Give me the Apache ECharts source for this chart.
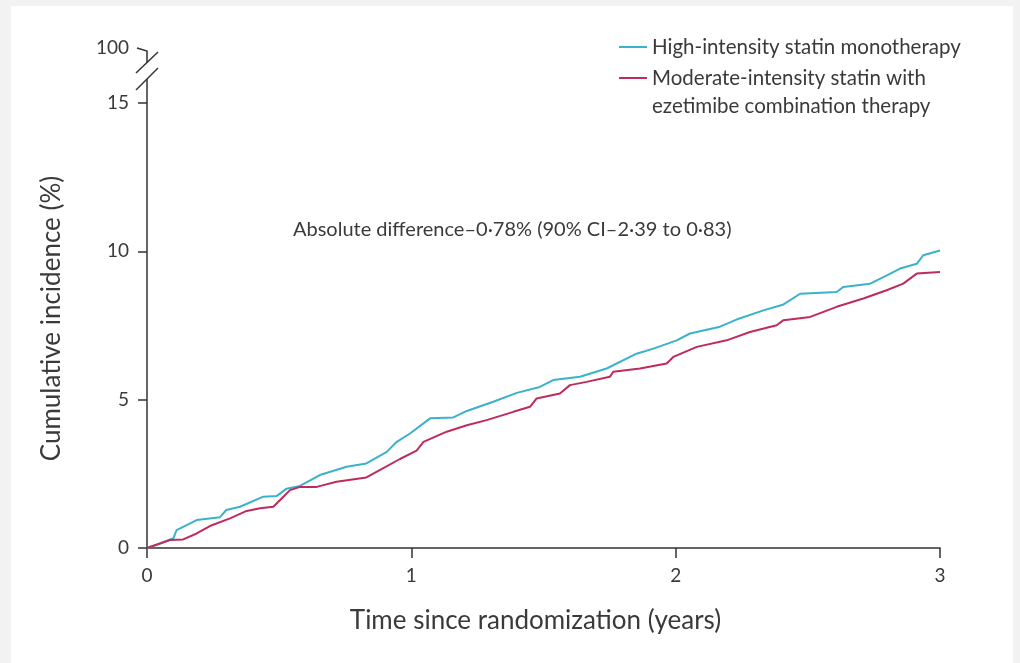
<!DOCTYPE html>
<html>
<head>
<meta charset="utf-8">
<script src="https://cdn.jsdelivr.net/npm/echarts@6/dist/echarts.min.js"></script>
<style>
  html, body { margin: 0; padding: 0; background: #f2f2f2; }
  #chart { position: absolute; left: 11px; top: 6px; width: 1002px; height: 657px; background: #fff; }
</style>
</head>
<body>
<div id="chart"></div>
<script>
// years since randomization / cumulative incidence (%)
const highTime = [0, 0.05, 0.10, 0.112, 0.188, 0.276, 0.30, 0.352, 0.44, 0.49, 0.528, 0.579, 0.654, 0.755, 0.83, 0.907, 0.945, 0.995, 1.071, 1.159, 1.21, 1.31, 1.399, 1.486, 1.537, 1.638, 1.739, 1.852, 1.916, 2.004, 2.054, 2.168, 2.23, 2.332, 2.408, 2.471, 2.609, 2.634, 2.736, 2.786, 2.849, 2.912, 2.937, 3.0]
const highValue = [0, 0.15, 0.33, 0.6, 0.94, 1.04, 1.28, 1.39, 1.73, 1.75, 2.0, 2.09, 2.46, 2.74, 2.85, 3.24, 3.58, 3.86, 4.37, 4.40, 4.62, 4.93, 5.23, 5.43, 5.66, 5.77, 6.05, 6.55, 6.72, 7.0, 7.23, 7.46, 7.7, 8.01, 8.21, 8.57, 8.63, 8.80, 8.91, 9.13, 9.42, 9.58, 9.87, 10.03]

const modTime = [0, 0.087, 0.137, 0.188, 0.238, 0.314, 0.377, 0.428, 0.478, 0.516, 0.541, 0.579, 0.642, 0.717, 0.83, 0.882, 0.957, 1.02, 1.046, 1.134, 1.21, 1.285, 1.386, 1.449, 1.474, 1.562, 1.60, 1.663, 1.751, 1.764, 1.865, 1.966, 1.991, 2.08, 2.193, 2.281, 2.382, 2.408, 2.509, 2.609, 2.71, 2.798, 2.861, 2.912, 3.0]
const modValue = [0, 0.27, 0.29, 0.49, 0.74, 1.0, 1.25, 1.34, 1.39, 1.73, 1.95, 2.06, 2.06, 2.23, 2.38, 2.63, 3.0, 3.28, 3.58, 3.92, 4.14, 4.31, 4.59, 4.76, 5.04, 5.21, 5.49, 5.6, 5.77, 5.94, 6.05, 6.22, 6.44, 6.78, 7.0, 7.28, 7.51, 7.68, 7.79, 8.13, 8.41, 8.69, 8.91, 9.25, 9.3]

const xTicks = [0, 1, 2, 3]
const yTicks = [0, 5, 10, 15]
const yBreakLabel = '100'

const highName = 'High-intensity statin monotherapy'
// leading blank line keeps the legend line level with the first text line
const modName = '\nModerate-intensity statin with\nezetimibe combination therapy'
const note = 'Absolute difference\u20130\u00b778% (90% CI\u20132\u00b739 to 0\u00b783)'

const FONT = 'Lato, "Open Sans", sans-serif'
const TEXT = '#3a3a3a'
const AXIS = '#333'
const TEAL = '#3bb1cb'
const RED = '#bf2b5c'

const zip = (xs, ys) => xs.map((x, i) => [x, ys[i]])

const chart = echarts.init(document.getElementById('chart'))

const lineSeries = (name, data, color) => ({
  name,
  type: 'line',
  data,
  showSymbol: false,
  symbol: 'none',
  lineStyle: { color, width: 2 },
  itemStyle: { color },
  z: 3
})

const legendStyle = { fontFamily: FONT, fontSize: 20.5, color: TEXT, lineHeight: 28 }

chart.setOption({
  animation: false,
  textStyle: { fontFamily: FONT },
  grid: { left: 136, right: 73, top: 97, bottom: 115 },
  legend: [
    {
      data: [highName],
      orient: 'vertical',
      left: 603,
      top: 22,
      icon: 'rect',
      itemWidth: 28,
      itemHeight: 2,
      selectedMode: false,
      textStyle: legendStyle
    },
    {
      data: [modName],
      orient: 'vertical',
      left: 603,
      top: 25,
      icon: 'rect',
      itemWidth: 28,
      itemHeight: 2,
      selectedMode: false,
      textStyle: legendStyle
    }
  ],
  xAxis: {
    type: 'value',
    min: xTicks[0],
    max: xTicks[xTicks.length - 1],
    interval: 1,
    name: 'Time since randomization (years)',
    nameLocation: 'middle',
    nameGap: 60,
    nameTextStyle: { fontFamily: FONT, fontSize: 26, color: TEXT, padding: [0, 16, 0, 0] },
    axisLine: { lineStyle: { color: AXIS, width: 1.5 } },
    axisTick: { length: 10, lineStyle: { color: AXIS, width: 1.5 } },
    axisLabel: { margin: 18, fontSize: 19, color: TEXT, fontFamily: FONT },
    splitLine: { show: false }
  },
  yAxis: {
    type: 'value',
    min: yTicks[0],
    max: yTicks[yTicks.length - 1],
    interval: 5,
    name: 'Cumulative incidence (%)',
    nameLocation: 'middle',
    nameGap: 82,
    nameTextStyle: { fontFamily: FONT, fontSize: 26, color: TEXT, padding: [0, 0, 0, 14] },
    axisLine: { show: true, lineStyle: { color: AXIS, width: 1.5 } },
    axisTick: { show: true, length: 9, lineStyle: { color: AXIS, width: 1.5 } },
    axisLabel: { margin: 18, fontSize: 19, color: TEXT, fontFamily: FONT },
    splitLine: { show: false }
  },
  series: [
    lineSeries(highName, zip(highTime, highValue), TEAL),
    lineSeries(modName, zip(modTime, modValue), RED)
  ]
})

// axis break above 15 and the 100 tick, anchored to the top of the y axis
const axisTop = chart.convertToPixel({ gridIndex: 0 }, [0, yTicks[yTicks.length - 1]])
const ax = axisTop[0], ay = axisTop[1]
const stroke = { stroke: AXIS, lineWidth: 1.5, fill: null }

chart.setOption({
  graphic: [
    { type: 'line', shape: { x1: ax, y1: ay, x2: ax, y2: ay - 24 }, style: stroke },
    { type: 'line', shape: { x1: ax - 11, y1: ay - 13, x2: ax + 11, y2: ay - 35 }, style: stroke },
    { type: 'line', shape: { x1: ax - 11, y1: ay - 30, x2: ax + 11, y2: ay - 51 }, style: stroke },
    { type: 'polyline', shape: { points: [[ax, ay - 40], [ax, ay - 52], [ax - 10, ay - 55]] }, style: stroke },
    {
      type: 'text',
      x: ax - 18,
      y: ay - 55,
      style: { text: yBreakLabel, fontSize: 19, fontFamily: FONT, fill: TEXT, align: 'right', verticalAlign: 'middle' }
    },
    {
      type: 'text',
      x: 282,
      y: 224,
      style: { text: note, fontSize: 20, fontFamily: FONT, fill: TEXT, align: 'left', verticalAlign: 'middle' }
    }
  ]
})
</script>
</body>
</html>
